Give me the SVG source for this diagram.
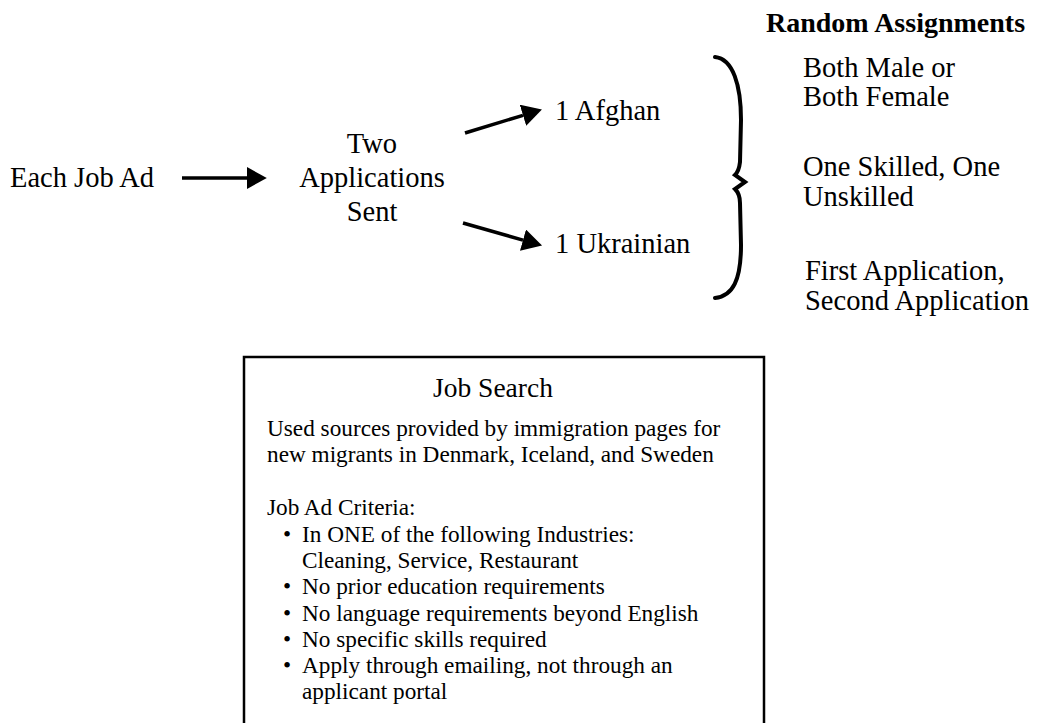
<svg xmlns="http://www.w3.org/2000/svg" width="1037" height="723" viewBox="0 0 1037 723" font-family="Liberation Serif, Times New Roman, serif">
<style>
.t{font-size:28.5px;fill:#000}
.h{font-size:28px;font-weight:bold;fill:#000}
.b{font-size:23.25px;fill:#000}
.c{stroke:#000;stroke-width:3.5;fill:none}
</style>
<defs>
<marker id="ah" markerUnits="userSpaceOnUse" markerWidth="20" markerHeight="22" refX="0" refY="10" orient="auto" viewBox="0 0 18 20">
<path d="M0,0 L18,10 L0,20 z" fill="#000"/>
</marker>
</defs>
<rect width="1037" height="723" fill="#fff"/>
<g id="connectors">
<line class="c" x1="182" y1="178" x2="247" y2="178" marker-end="url(#ah)"/>
<line class="c" x1="465" y1="133" x2="523" y2="115.3" marker-end="url(#ah)"/>
<line class="c" x1="463" y1="223" x2="523" y2="240.1" marker-end="url(#ah)"/>
</g>
<g id="job-ad"><text class="t" x="10" y="187">Each Job Ad</text></g>
<g id="two-apps">
<text class="t" x="372" y="153" text-anchor="middle">Two</text>
<text class="t" x="372" y="187" text-anchor="middle">Applications</text>
<text class="t" x="372" y="221" text-anchor="middle">Sent</text>
</g>
<g id="afghan"><text class="t" x="555" y="120">1 Afghan</text></g>
<g id="ukrainian"><text class="t" x="555" y="253">1 Ukrainian</text></g>
<g id="brace">
<path d="M715,57 C733,59 741,85 741,120 L740,162 Q739,171 735,175 L745,182 L735,189 Q740,194 740,203 L741,245 C741,280 733,296 715,298" stroke="#000" stroke-width="4" fill="none" stroke-linecap="round" stroke-linejoin="miter"/>
</g>
<g id="random-assignments">
<text class="h" x="766" y="32">Random Assignments</text>
<text class="t" x="803" y="77">Both Male or</text>
<text class="t" x="803" y="106">Both Female</text>
<text class="t" x="803" y="176">One Skilled, One</text>
<text class="t" x="803" y="206">Unskilled</text>
<text class="t" x="805" y="280">First Application,</text>
<text class="t" x="805" y="310">Second Application</text>
</g>
<g id="job-search">
<rect x="244" y="357" width="520" height="380" fill="none" stroke="#000" stroke-width="2.5"/>
<text class="t" x="493" y="397" text-anchor="middle" style="font-size:27.5px">Job Search</text>
<text class="b" x="267" y="436">Used sources provided by immigration pages for</text>
<text class="b" x="267" y="462">new migrants in Denmark, Iceland, and Sweden</text>
<text class="b" x="267" y="515">Job Ad Criteria:</text>
<text class="b" x="283" y="542">•</text><text class="b" x="302" y="542">In ONE of the following Industries:</text>
<text class="b" x="302" y="568">Cleaning, Service, Restaurant</text>
<text class="b" x="283" y="594">•</text><text class="b" x="302" y="594">No prior education requirements</text>
<text class="b" x="283" y="621">•</text><text class="b" x="302" y="621">No language requirements beyond English</text>
<text class="b" x="283" y="647">•</text><text class="b" x="302" y="647">No specific skills required</text>
<text class="b" x="283" y="673">•</text><text class="b" x="302" y="673">Apply through emailing, not through an</text>
<text class="b" x="302" y="699">applicant portal</text>
</g>
</svg>
